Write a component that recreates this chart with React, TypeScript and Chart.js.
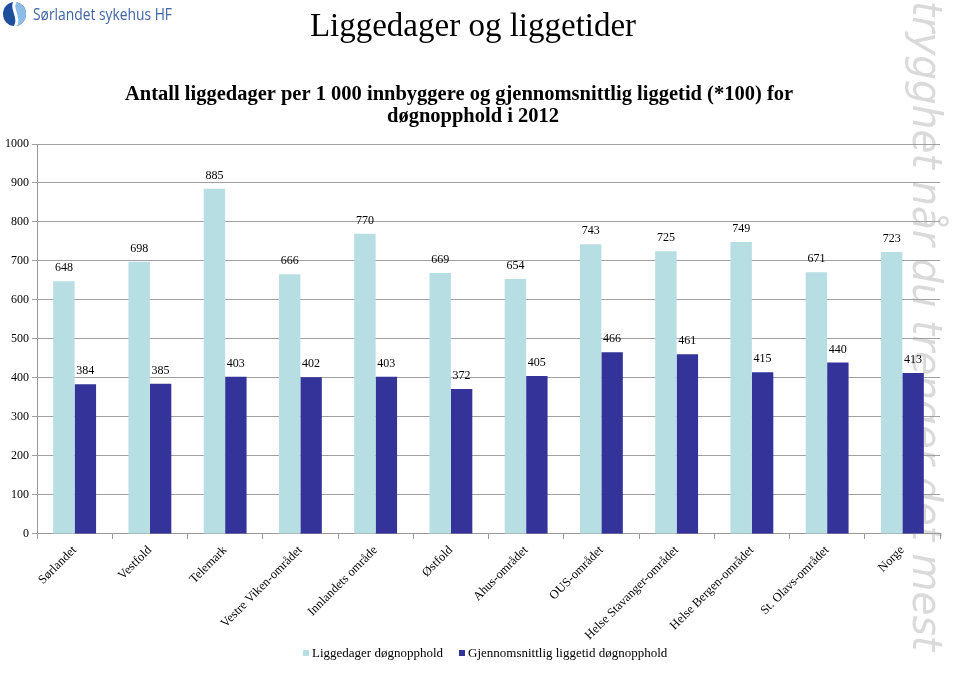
import React, { useEffect, useRef } from "react";
import { Chart, registerables } from "chart.js";

Chart.register(...registerables);

const categories = [
  "Sørlandet",
  "Vestfold",
  "Telemark",
  "Vestre Viken-området",
  "Innlandets område",
  "Østfold",
  "Ahus-området",
  "OUS-området",
  "Helse Stavanger-området",
  "Helse Bergen-området",
  "St. Olavs-området",
  "Norge",
];
const liggedager = [648, 698, 885, 666, 770, 669, 654, 743, 725, 749, 671, 723];
const liggetid = [384, 385, 403, 402, 403, 372, 405, 466, 461, 415, 440, 413];
const seriesNames = ["Liggedager døgnopphold", "Gjennomsnittlig liggetid døgnopphold"];
const seriesColors = ["#b7dee2", "#333399"];

const SERIF = "'Liberation Serif', 'Times New Roman', serif";

const decorPlugin = {
  id: "decor",
  beforeDraw(chart: any) {
    const ctx = chart.ctx as CanvasRenderingContext2D;
    ctx.save();
    ctx.fillStyle = "#ffffff";
    ctx.fillRect(0, 0, chart.width, chart.height);

    // vertical handwriting-like slogan at right
    ctx.save();
    ctx.translate(913, 1);
    ctx.rotate(Math.PI / 2);
    ctx.fillStyle = "#dadada";
    ctx.font = "italic 40px 'DejaVu Sans ExtraLight', 'DejaVu Sans'";
    ctx.textBaseline = "alphabetic";
    ctx.textAlign = "left";
    const slogan = "trygghet når du trenger det mest";
    const w = ctx.measureText(slogan).width;
    ctx.scale(650 / w, 1);
    ctx.fillText(slogan, 0, 0);
    ctx.restore();

    // logo icon
    ctx.save();
    ctx.beginPath();
    ctx.ellipse(14.5, 14, 11.5, 12, 0, 0, Math.PI * 2);
    ctx.clip();
    ctx.fillStyle = "#1d4f9c";
    ctx.fillRect(0, 0, 30, 30);
    ctx.fillStyle = "#8cbde8";
    ctx.beginPath();
    ctx.moveTo(16, 0);
    ctx.bezierCurveTo(8, 8, 24, 18, 14, 30);
    ctx.lineTo(30, 30);
    ctx.lineTo(30, 0);
    ctx.closePath();
    ctx.fill();
    ctx.strokeStyle = "#ffffff";
    ctx.lineWidth = 3;
    ctx.beginPath();
    ctx.moveTo(17, 0);
    ctx.bezierCurveTo(7, 8, 24, 17, 13, 30);
    ctx.stroke();
    ctx.restore();

    ctx.save();
    ctx.fillStyle = "#3f64a4";
    ctx.font = "16px 'Open Sans', 'DejaVu Sans', sans-serif";
    ctx.textBaseline = "middle";
    ctx.textAlign = "left";
    const logoText = "Sørlandet sykehus HF";
    const lw = ctx.measureText(logoText).width;
    ctx.translate(33, 15);
    ctx.scale(139 / lw, 1);
    ctx.fillText(logoText, 0, 0);
    ctx.restore();

    // titles
    ctx.fillStyle = "#000000";
    ctx.textAlign = "center";
    ctx.textBaseline = "middle";
    ctx.font = `33px ${SERIF}`;
    ctx.fillText("Liggedager og liggetider", 473, 27);
    ctx.font = `bold 20.5px ${SERIF}`;
    ctx.fillText(
      "Antall liggedager per 1 000 innbyggere og gjennomsnittlig liggetid (*100) for",
      459,
      95
    );
    ctx.fillText("døgnopphold i 2012", 473, 117);
    ctx.restore();
  },
};

const valueLabelPlugin = {
  id: "valueLabels",
  afterDatasetsDraw(chart: any) {
    const ctx = chart.ctx as CanvasRenderingContext2D;
    ctx.save();
    ctx.fillStyle = "#000000";
    ctx.font = `12px ${SERIF}`;
    ctx.textAlign = "center";
    ctx.textBaseline = "bottom";
    chart.data.datasets.forEach((ds: any, di: number) => {
      const meta = chart.getDatasetMeta(di);
      meta.data.forEach((bar: any, i: number) => {
        ctx.fillText(String(ds.data[i]), bar.x, bar.y - 7);
      });
    });
    ctx.restore();
  },
  afterDraw(chart: any) {
    const ctx = chart.ctx as CanvasRenderingContext2D;
    ctx.save();
    ctx.font = `13px ${SERIF}`;
    ctx.textBaseline = "middle";
    ctx.textAlign = "left";
    const xs = [303, 459];
    const y = 654;
    chart.data.datasets.forEach((ds: any, di: number) => {
      ctx.fillStyle = ds.backgroundColor;
      ctx.fillRect(xs[di], y - 4, 6, 6);
      ctx.fillStyle = "#000000";
      ctx.fillText(ds.label, xs[di] + 9, y);
    });
    ctx.restore();
  },
};

export default function App() {
  const ref = useRef<HTMLCanvasElement | null>(null);
  useEffect(() => {
    if (!ref.current) return;
    const chart = new Chart(ref.current, {
      type: "bar",
      data: {
        labels: categories,
        datasets: [
          {
            label: seriesNames[0],
            data: liggedager,
            backgroundColor: seriesColors[0],
            categoryPercentage: 0.57,
            barPercentage: 1.0,
          },
          {
            label: seriesNames[1],
            data: liggetid,
            backgroundColor: seriesColors[1],
            categoryPercentage: 0.57,
            barPercentage: 1.0,
          },
        ],
      },
      options: {
        animation: false,
        responsive: false,
        maintainAspectRatio: false,
        layout: { padding: { top: 144, left: 2, right: 20, bottom: 34 } },
        plugins: {
          title: { display: false },
          tooltip: { enabled: false },
          legend: { display: false },
        },
        scales: {
          x: {
            grid: {
              display: true,
              drawOnChartArea: false,
              drawTicks: true,
              tickLength: 5,
              color: "#999999",
              offset: true,
            },
            border: { display: true, color: "#999999" },
            ticks: {
              color: "#000000",
              font: { family: SERIF, size: 12.5 },
              minRotation: 45,
              maxRotation: 45,
              autoSkip: false,
              padding: 4,
            },
          },
          y: {
            min: 0,
            max: 1000,
            grid: {
              color: "#a0a0a0",
              drawTicks: true,
              tickLength: 5,
            },
            border: { display: true, color: "#999999" },
            ticks: {
              stepSize: 100,
              color: "#000000",
              font: { family: SERIF, size: 12 },
              padding: 3,
              callback: (v: any) => String(v),
            },
          },
        },
      },
      plugins: [decorPlugin, valueLabelPlugin],
    });
    return () => chart.destroy();
  }, []);
  return (
    <div style={{ position: "fixed", left: 0, top: 0, width: 960, height: 681, background: "#fff" }}>
      <canvas ref={ref} width={960} height={681} style={{ display: "block" }} />
    </div>
  );
}
